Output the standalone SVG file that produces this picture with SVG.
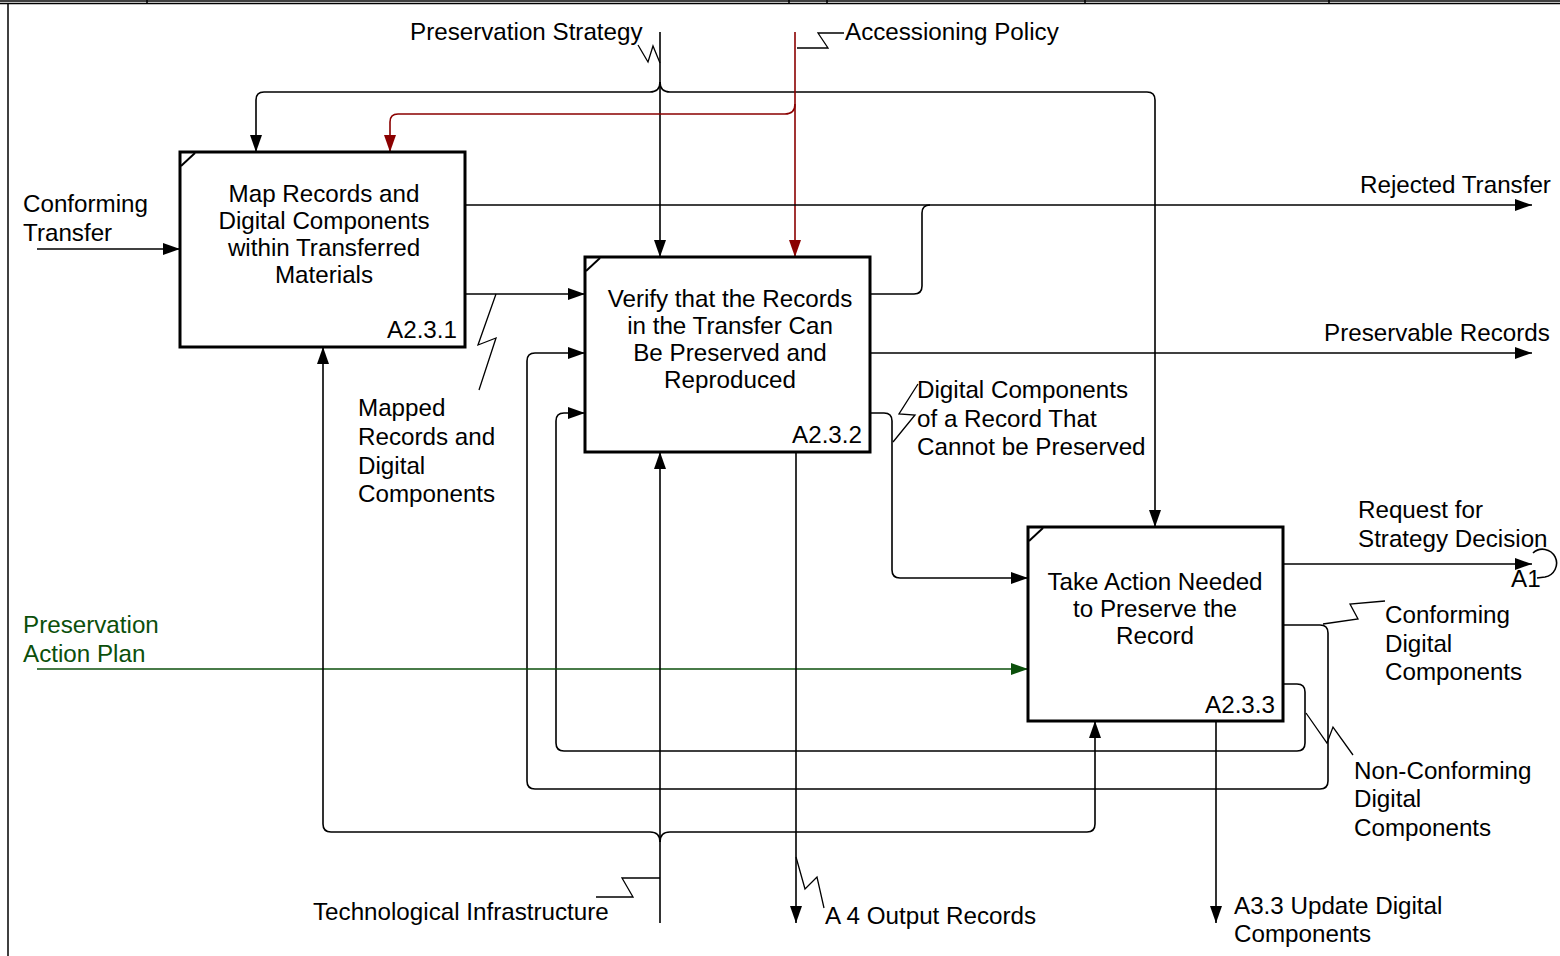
<svg xmlns="http://www.w3.org/2000/svg" width="1560" height="956" viewBox="0 0 1560 956">
  <style>
    text { font-family: "Liberation Sans", Arial, sans-serif; font-size: 24.2px; fill: #000; }
    .green { fill: #0b4f0b; }
    .mid { text-anchor: middle; }
    .end { text-anchor: end; }
    .box { fill: #fff; stroke: #000; stroke-width: 3; }
    .tick { stroke: #000; stroke-width: 2; fill: none; }
    .ln { fill: none; stroke: #000; stroke-width: 1.6; }
    .red { stroke: #8b0000; }
    .grn { stroke: #0b4f0b; }
    .sq { fill: none; stroke: #000; stroke-width: 1.3; }
    .frame { stroke: #000; stroke-width: 1.5; fill: none; }
  </style>
  <defs>
    <marker id="arr" markerUnits="userSpaceOnUse" markerWidth="18" markerHeight="12" refX="17" refY="6" orient="auto">
      <path d="M0,0 L17,6 L0,12 z" fill="#000"/>
    </marker>
    <marker id="arrRed" markerUnits="userSpaceOnUse" markerWidth="18" markerHeight="12" refX="17" refY="6" orient="auto">
      <path d="M0,0 L17,6 L0,12 z" fill="#8b0000"/>
    </marker>
    <marker id="arrGrn" markerUnits="userSpaceOnUse" markerWidth="18" markerHeight="12" refX="17" refY="6" orient="auto">
      <path d="M0,0 L17,6 L0,12 z" fill="#0b4f0b"/>
    </marker>
  </defs>

  <rect width="1560" height="956" fill="#fff"/>

  <!-- page frame -->
  <g id="frame">
    <line class="frame" x1="0" y1="1" x2="1560" y2="1"/>
    <line class="frame" x1="0" y1="3.5" x2="1560" y2="3.5"/>
    <line class="frame" x1="8" y1="4" x2="8" y2="956"/>
    <line class="frame" x1="147" y1="0" x2="147" y2="4"/>
    <line class="frame" x1="789" y1="0" x2="789" y2="4"/>
    <line class="frame" x1="827" y1="0" x2="827" y2="4"/>
    <line class="frame" x1="1085" y1="0" x2="1085" y2="4"/>
    <line class="frame" x1="1329" y1="0" x2="1329" y2="4"/>
  </g>

  <!-- connectors -->
  <g id="connectors">
    <!-- Preservation Strategy (control) -->
    <path class="ln" d="M660,32 V257" marker-end="url(#arr)"/>
    <path class="ln" d="M660,82 Q660,92 650,92 H264 Q256,92 256,100 V152" marker-end="url(#arr)"/>
    <path class="ln" d="M660,82 Q660,92 670,92 H1147 Q1155,92 1155,100 V527" marker-end="url(#arr)"/>
    <polyline class="sq" points="638,45 648,62 653,46 660,63"/>

    <!-- Accessioning Policy (control) -->
    <path class="ln red" d="M795,32 V257" marker-end="url(#arrRed)"/>
    <path class="ln red" d="M795,104 Q795,114 785,114 H398 Q390,114 390,122 V152" marker-end="url(#arrRed)"/>
    <polyline class="sq" points="797,48 828,48 818,33 844,33"/>

    <!-- Conforming Transfer (input) -->
    <path class="ln" d="M37,249 H180" marker-end="url(#arr)"/>

    <!-- Rejected Transfer -->
    <path class="ln" d="M465,205 H1532" marker-end="url(#arr)"/>
    <path class="ln" d="M870,294 H914 Q922,294 922,286 V213 Q922,205 930,205"/>

    <!-- Mapped Records and Digital Components -->
    <path class="ln" d="M465,294 H585" marker-end="url(#arr)"/>
    <polyline class="sq" points="496,294 478,345 496,338 479,390"/>

    <!-- Preservable Records -->
    <path class="ln" d="M870,353 H1532" marker-end="url(#arr)"/>

    <!-- Digital Components of a Record That Cannot be Preserved -->
    <path class="ln" d="M870,413 H884 Q892,413 892,421 V570 Q892,578 900,578 H1028" marker-end="url(#arr)"/>
    <polyline class="sq" points="893,442 915,415 899,414 918,384"/>

    <!-- Request for Strategy Decision -->
    <path class="ln" d="M1283,564 H1532" marker-end="url(#arr)"/>
    <path class="ln" d="M1533,553 A14,14 0 1 1 1545,577 L1537,578"/>

    <!-- Conforming Digital Components (feedback) -->
    <path class="ln" d="M1283,625 H1320 Q1328,625 1328,633 V781 Q1328,789 1320,789 H535 Q527,789 527,781 V361 Q527,353 535,353 H585" marker-end="url(#arr)"/>
    <polyline class="sq" points="1323,624 1358,619 1350,604 1385,601"/>

    <!-- Non-Conforming Digital Components (feedback) -->
    <path class="ln" d="M1283,684 H1297 Q1305,684 1305,692 V743 Q1305,751 1297,751 H564 Q556,751 556,743 V421 Q556,413 564,413 H585" marker-end="url(#arr)"/>
    <polyline class="sq" points="1306,713 1327,743 1333,727 1353,755"/>

    <!-- Preservation Action Plan (control) -->
    <path class="ln grn" d="M37,669 H1028" marker-end="url(#arrGrn)"/>

    <!-- Technological Infrastructure (mechanism) -->
    <path class="ln" d="M660,923 V452" marker-end="url(#arr)"/>
    <path class="ln" d="M660,842 Q660,832 650,832 H331 Q323,832 323,824 V347" marker-end="url(#arr)"/>
    <path class="ln" d="M660,842 Q660,832 670,832 H1087 Q1095,832 1095,824 V721" marker-end="url(#arr)"/>
    <polyline class="sq" points="660,878 622,878 633,897 596,897"/>

    <!-- A 4 Output Records -->
    <path class="ln" d="M796,452 V923" marker-end="url(#arr)"/>
    <polyline class="sq" points="796,857 805,889 817,877 824,908"/>

    <!-- A3.3 Update Digital Components -->
    <path class="ln" d="M1216,721 V923" marker-end="url(#arr)"/>
  </g>

  <!-- activity boxes -->
  <g id="A2.3.1">
    <rect class="box" x="180" y="152" width="285" height="195"/>
    <line class="tick" x1="181" y1="166" x2="195" y2="153"/>
    <text class="mid" x="324" y="202">Map Records and</text>
    <text class="mid" x="324" y="229">Digital Components</text>
    <text class="mid" x="324" y="256">within Transferred</text>
    <text class="mid" x="324" y="283">Materials</text>
    <text class="end" x="457" y="338">A2.3.1</text>
  </g>

  <g id="A2.3.2">
    <rect class="box" x="585" y="257" width="285" height="195"/>
    <line class="tick" x1="586" y1="271" x2="600" y2="258"/>
    <text class="mid" x="730" y="307">Verify that the Records</text>
    <text class="mid" x="730" y="334">in the Transfer Can</text>
    <text class="mid" x="730" y="361">Be Preserved and</text>
    <text class="mid" x="730" y="388">Reproduced</text>
    <text class="end" x="862" y="443">A2.3.2</text>
  </g>

  <g id="A2.3.3">
    <rect class="box" x="1028" y="527" width="255" height="194"/>
    <line class="tick" x1="1029" y1="541" x2="1043" y2="528"/>
    <text class="mid" x="1155" y="590">Take Action Needed</text>
    <text class="mid" x="1155" y="617">to Preserve the</text>
    <text class="mid" x="1155" y="644">Record</text>
    <text class="end" x="1275" y="713">A2.3.3</text>
  </g>

  <!-- arrow labels -->
  <g id="labels">
    <text x="410" y="40">Preservation Strategy</text>
    <text x="845" y="40">Accessioning Policy</text>
    <text x="23" y="212">Conforming</text>
    <text x="23" y="241">Transfer</text>
    <text x="1360" y="193">Rejected Transfer</text>
    <text x="1324" y="341">Preservable Records</text>
    <text x="358" y="416">Mapped</text>
    <text x="358" y="445">Records and</text>
    <text x="358" y="474">Digital</text>
    <text x="358" y="502">Components</text>
    <text x="917" y="398">Digital Components</text>
    <text x="917" y="427">of a Record That</text>
    <text x="917" y="455">Cannot be Preserved</text>
    <text x="1358" y="518">Request for</text>
    <text x="1358" y="547">Strategy Decision</text>
    <text x="1511" y="587">A1</text>
    <text x="1385" y="623">Conforming</text>
    <text x="1385" y="652">Digital</text>
    <text x="1385" y="680">Components</text>
    <text class="green" x="23" y="633">Preservation</text>
    <text class="green" x="23" y="662">Action Plan</text>
    <text x="1354" y="779">Non-Conforming</text>
    <text x="1354" y="807">Digital</text>
    <text x="1354" y="836">Components</text>
    <text x="313" y="920">Technological Infrastructure</text>
    <text x="825" y="924">A 4 Output Records</text>
    <text x="1234" y="914">A3.3 Update Digital</text>
    <text x="1234" y="942">Components</text>
  </g>
</svg>
